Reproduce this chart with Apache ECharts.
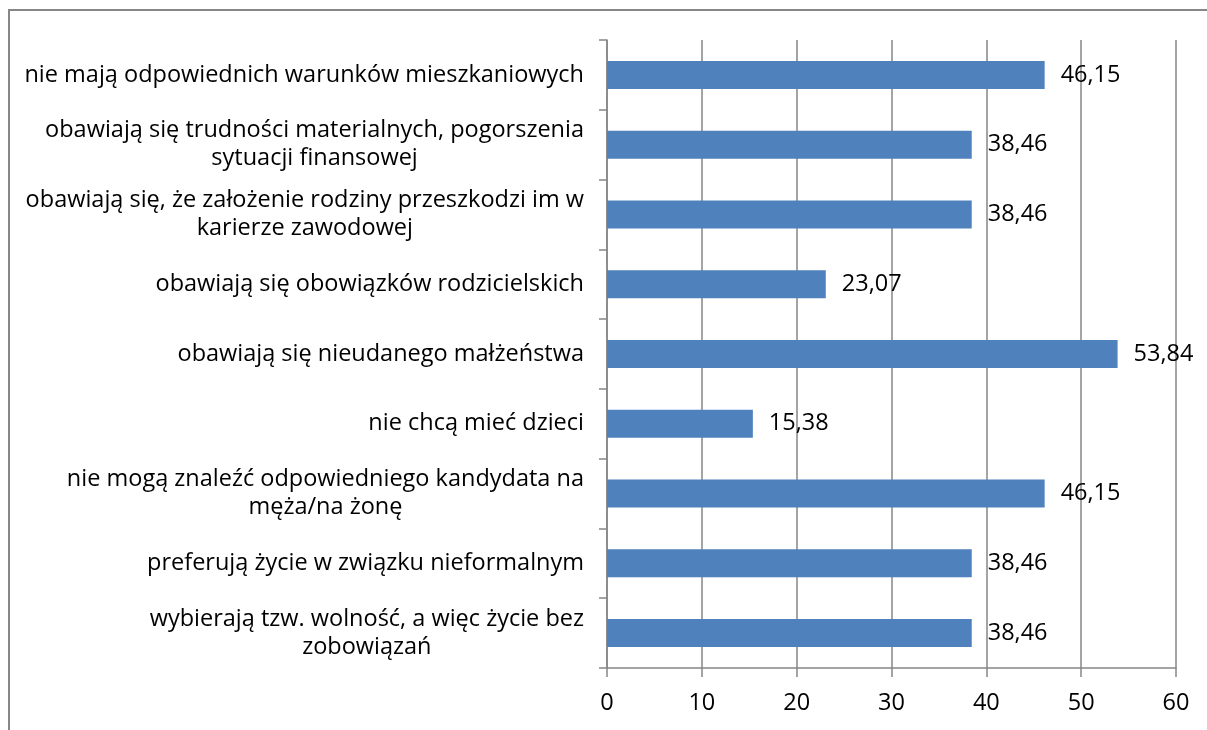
<!DOCTYPE html>
<html>
<head>
<meta charset="utf-8">
<script src="https://cdn.jsdelivr.net/npm/echarts@6/dist/echarts.min.js"></script>
<style>
html,body{margin:0;padding:0;background:#fff;}
#wrap{position:relative;width:1207px;height:730px;overflow:hidden;}
#frame{position:absolute;left:8px;top:9px;width:1400px;height:900px;border-left:2px solid #878787;border-top:2px solid #878787;}
#chart{position:absolute;left:0;top:0;width:1207px;height:730px;}
</style>
</head>
<body>
<div id="wrap"><div id="frame"></div><div id="chart"></div></div>
<script>
const categories = [
  "nie mają odpowiednich warunków mieszkaniowych",
  "obawiają się trudności materialnych, pogorszenia\nsytuacji finansowej",
  "obawiają się, że założenie rodziny przeszkodzi im w\nkarierze zawodowej",
  "obawiają się obowiązków rodzicielskich",
  "obawiają się nieudanego małżeństwa",
  "nie chcą mieć dzieci",
  "nie mogą znaleźć odpowiedniego kandydata na\nmęża/na żonę",
  "preferują życie w związku nieformalnym",
  "wybierają tzw. wolność, a więc życie bez\nzobowiązań"
];
const values = [46.15, 38.46, 38.46, 23.07, 53.84, 15.38, 46.15, 38.46, 38.46];
const xTicks = [0, 10, 20, 30, 40, 50, 60];

const FONT = "Open Sans";
const FS = 23.5;
const chart = echarts.init(document.getElementById('chart'));
chart.setOption({
  animation: false,
  textStyle: {fontFamily: FONT},
  grid: {left: 607, right: 31, top: 40, bottom: 62, containLabel: false},
  xAxis: {
    type: 'value', min: xTicks[0], max: xTicks[xTicks.length - 1], interval: 10,
    axisLine: {show: true, lineStyle: {color: '#868686', width: 1.5}},
    axisTick: {show: true, length: 9, lineStyle: {color: '#868686', width: 1.5}},
    splitLine: {show: true, lineStyle: {color: '#868686', width: 1.5}},
    axisLabel: {color: '#000', fontSize: FS, fontFamily: FONT, margin: 23}
  },
  yAxis: {
    type: 'category', data: categories, inverse: true,
    axisLine: {show: true, lineStyle: {color: '#868686', width: 1.5}},
    axisTick: {show: true, length: 8, alignWithLabel: false, lineStyle: {color: '#868686', width: 1.5}},
    axisLabel: {
      color: '#000', fontSize: FS, fontFamily: FONT, margin: 23,
      formatter: function (v) {
        return v.split('\n').map(function (l) { return '{c|' + l + '}'; }).join('\n');
      },
      rich: {c: {align: 'center', color: '#000', fontSize: FS, fontFamily: FONT, lineHeight: 28}}
    }
  },
  series: [{
    type: 'bar', data: values, barWidth: 28,
    itemStyle: {color: '#4F81BD'},
    label: {
      show: true, position: 'right', distance: 16, color: '#000', fontSize: FS, fontFamily: FONT,
      formatter: function (p) { return p.value.toFixed(2).replace('.', ','); }
    }
  }]
});
</script>
</body>
</html>
